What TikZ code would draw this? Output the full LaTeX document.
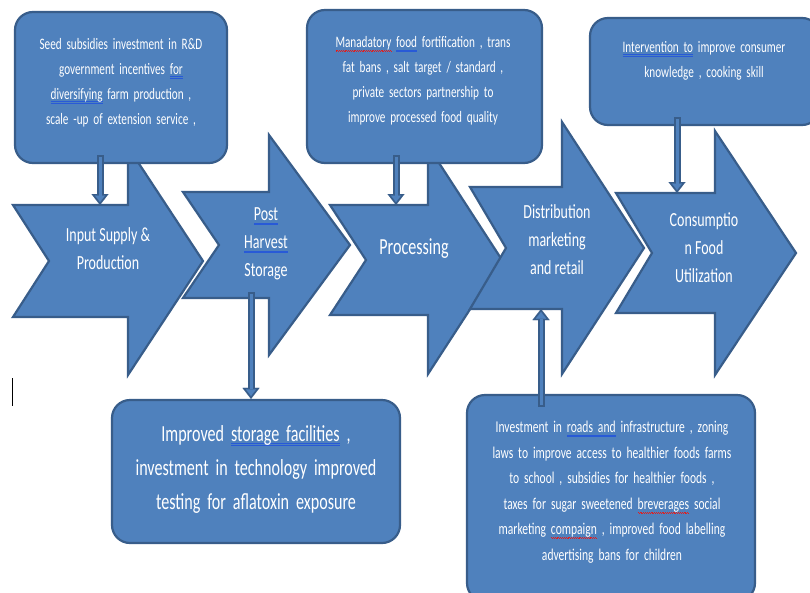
\documentclass[tikz,border=0pt]{standalone}
\usepackage{fontspec}
\setmainfont{Carlito}[FakeStretch=0.7, WordSpace=1.9]
\newfontfamily\stepfont{Carlito}[FakeStretch=0.7]
\usetikzlibrary{arrows.meta,positioning,calc}

\definecolor{chainblue}{RGB}{79,129,189}
\definecolor{chainedge}{RGB}{56,93,138}
\definecolor{gramblue}{RGB}{40,90,215}
\definecolor{spellred}{RGB}{225,30,30}

\newsavebox{\markbox}
\newcommand{\gramline}[1]{\sbox{\markbox}{#1}\rlap{\color{gramblue}\rule[-2.8pt]{\wd\markbox}{0.6pt}}\rlap{\color{gramblue}\rule[-4.3pt]{\wd\markbox}{0.6pt}}\usebox{\markbox}}
\newcommand{\spellwave}[1]{\sbox{\markbox}{#1}\rlap{\color{spellred}\hbox to \wd\markbox{\xleaders\hbox{\rule[-3.2pt]{0.9pt}{0.6pt}\rule[-4.1pt]{0.9pt}{0.6pt}}\hfil}}\usebox{\markbox}}

\tikzset{
  chain/.style={fill=chainblue, draw=chainedge, line width=2.2pt, line join=miter},
  infobox/.style={chain, rounded corners=18pt, inner sep=0pt},
  boxtext/.style={text=white, align=center, font=\fontsize{16}{25}\selectfont},
  steplabel/.style={text=white, align=center, font=\stepfont\fontsize{20}{28}\selectfont},
  linkout/.style={draw=chainedge, line width=7pt, -{Triangle[length=11pt,width=17pt,line width=0.01pt]}},
  linkin/.style={draw=chainblue, line width=3pt, shorten <=2pt, shorten >=3pt, -{Triangle[length=6.5pt,width=10pt,line width=0.01pt]}},
}

\begin{document}
\begin{tikzpicture}[x=1pt,y=-1pt]
    \clip (0,0) rectangle (810,592);
    \fill[white] (0,0) rectangle (810,592);

    % Chain arrows: left, centre, body half, head x, tip x, head half
    \foreach \l/\c/\b/\hx/\tip/\hh in {13/261/56/128/203/114, 183/245/53/269/350/110, 330/260/55/428/502/114, 470/248/61/562/644/126, 616/253/60/715/796/122}
        \draw[chain] (\l,\c-\b) -- (\hx,\c-\b) -- (\hx,\c-\hh) -- (\tip,\c) -- (\hx,\c+\hh) -- (\hx,\c+\b) -- (\l,\c+\b) -- (\l+36,\c) -- cycle;

    \node[steplabel] (a1) at (108,249) {Input Supply \&\\Production};
    \node[steplabel] (a2) at (266,244) {\gramline{Post}\\\gramline{Harvest}\\Storage};
    \node[steplabel, font=\stepfont\fontsize{23}{28}\selectfont] (a3) at (414,249) {Processing};
    \node[steplabel] (a4) at (557,240) {Distribution\\marketing\\and retail};
    \node[steplabel] (a5) at (704,248) {Consumptio\\n Food\\Utilization};

    % Connector ends on the arrows
    \coordinate (a1in) at (100,205);
    \coordinate (a3in) at (396,205);
    \coordinate (a5in) at (677,193);
    \coordinate (a2out) at (251,292);
    \coordinate (a4in) at (541,309);

    % Policy boxes
    \node[infobox, minimum width=212pt, minimum height=151pt] (b1) at (121,87.5) {};
    \node[infobox, minimum width=235pt, minimum height=153pt] (b3) at (424.5,86.5) {};
    \node[infobox, minimum width=230pt, minimum height=107pt] (b5) at (705,71.5) {};
    \node[infobox, minimum width=288pt, minimum height=143pt] (b2) at (256,471.5) {};
    \node[infobox, minimum width=288pt, minimum height=206pt] (b4) at (611,498) {};

    \node[boxtext] (b1t) at (121,82.5) {Seed subsidies investment in R\&D\\government incentives \gramline{for}\\\gramline{diversifying} farm production ,\\scale -up of extension service ,};
    \node[boxtext] (b3t) at (423,81) {\spellwave{Manadatory} \gramline{food} fortification , trans\\fat bans , salt target / standard ,\\private sectors partnership to\\improve processed food quality};
    \node[boxtext] (b5t) at (704,60.5) {\gramline{Intervention to} improve consumer\\knowledge , cooking skill};
    \node[boxtext, font=\fontsize{23}{34}\selectfont] (b2t) at (256,469) {Improved \gramline{storage facilities} ,\\investment in technology improved\\testing for aflatoxin exposure};
    \node[boxtext, font=\fontsize{16.5}{25.5}\selectfont] (b4t) at (612,492) {Investment in \gramline{roads and} infrastructure , zoning\\laws to improve access to healthier foods farms\\to school , subsidies for healthier foods ,\\taxes for sugar sweetened \spellwave{breverages} social\\marketing \spellwave{compaign} , improved food labelling\\advertising bans for children};

    % Connectors
    \foreach \s/\t in {b1/a1in, b3/a3in, b5/a5in} {
        \draw[linkout] ($(\s.south -| \t)+(0,-9)$) -- (\t);
        \draw[linkin] ($(\s.south -| \t)+(0,-9)$) -- (\t);
    }
    \draw[linkout] (a2out) -- (b2.north -| a2out);
    \draw[linkin] (a2out) -- (b2.north -| a2out);
    \draw[linkout] ($(b4.north -| a4in)+(0,13)$) -- (a4in);
    \draw[linkin] ($(b4.north -| a4in)+(0,13)$) -- (a4in);

    % stray cursor mark
    \draw[black, line width=1pt] (12,378) -- (12,406);
\end{tikzpicture}
\end{document}
